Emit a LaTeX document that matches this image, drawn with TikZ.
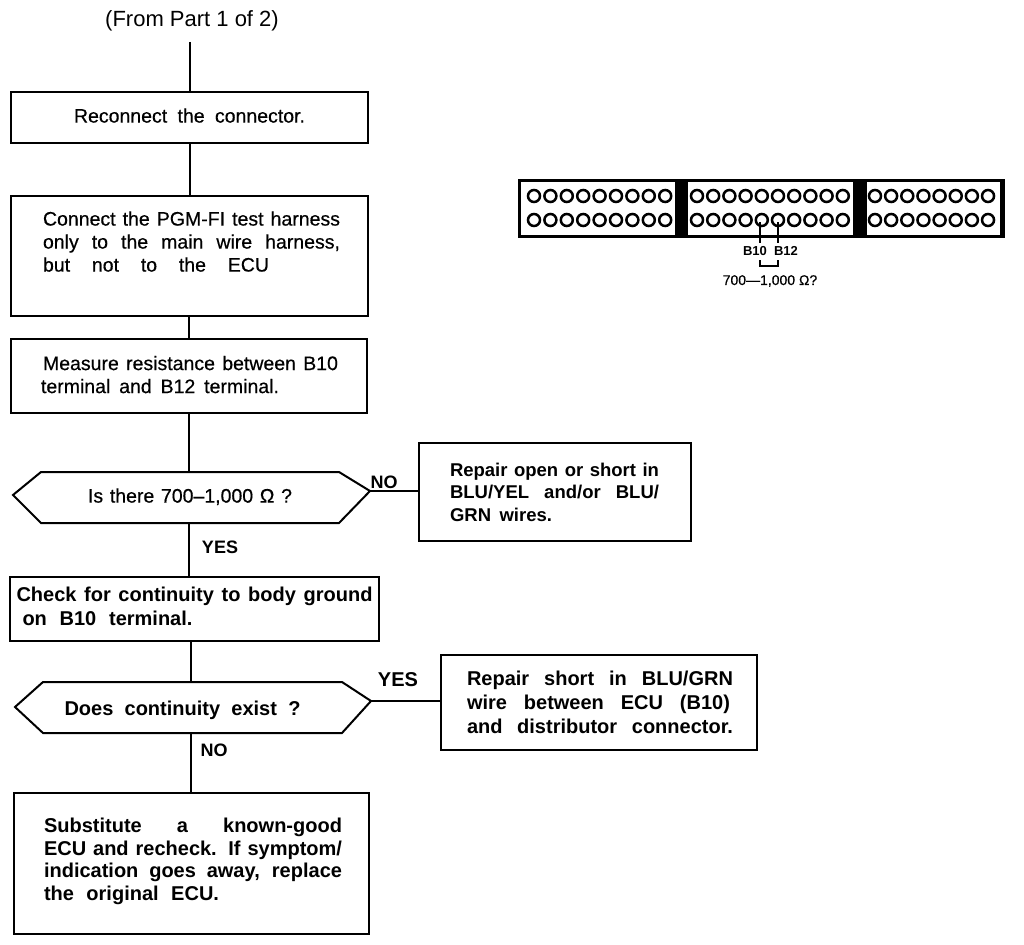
\documentclass[tikz,border=0pt]{standalone}
\usepackage{fontspec}
\setmainfont{Liberation Sans}
\newfontfamily\medfont[FakeBold=0.5]{Liberation Sans}

% one line stretched to a given width
\newcommand{\fl}[2]{\makebox[#1pt][s]{\spaceskip=0pt\xspaceskip=0pt #2}}
% hexagon outline round a question node: left tip, right tip
\newcommand{\hexout}[3]{\draw[wire] (#1.north west) -- (#1.north east) -- (#3) -- (#1.south east) -- (#1.south west) -- (#2) -- cycle;}

\tikzset{
wire/.style={line width=2pt,line join=miter},
thin wire/.style={line width=1.5pt},
textbox/.style={draw,line width=2pt,anchor=north west,align=left,outer sep=0pt,inner ysep=0pt},
rtext/.style={font=\fontsize{19.5}{23}\medfont},
btext/.style={font=\fontsize{20}{23}\selectfont\bfseries},
question/.style={anchor=north west,outer sep=0pt,inner sep=0pt,align=center},
answer/.style={font=\fontsize{18}{22}\selectfont\bfseries,inner sep=0pt},
}

\begin{document}
\begin{tikzpicture}[x=1pt,y=-1pt]
\useasboundingbox (0,0) rectangle (1024,944);

% left column
\node[font=\fontsize{22}{26}\selectfont,inner sep=0pt] (from) at (192,21) {(From Part 1 of 2)};
\coordinate (start) at (190,42);

\node[textbox,rtext,minimum width=357pt,minimum height=51pt,text width=337pt,inner xsep=10pt,align=center] (reconnect) at (11,92)
  {\fl{231}{Reconnect the connector.}\\[-19pt]\mbox{}};
\node[textbox,rtext,minimum width=357pt,minimum height=120pt,text width=325pt,inner xsep=16pt] (harness) at (11,196)
  {\hspace{16pt}\fl{297}{Connect the PGM-FI test harness}\\
   \hspace{16pt}\fl{297}{only to the main wire harness,}\\
   \hspace{16pt}\fl{226}{but not to the ECU}\\[6pt]\mbox{}};
\node[textbox,rtext,minimum width=356pt,minimum height=74pt,text width=298pt,inner xsep=29pt] (measure) at (11,339)
  {\hspace{3pt}\fl{295}{Measure resistance between B10}\\
   \hspace{1pt}\fl{238}{terminal and B12 terminal.}\\[-20pt]\mbox{}};

\node[question,rtext,minimum width=298pt,minimum height=51pt] (askohm) at (41,472) {\fl{204}{Is there 700–1,000 Ω ?}\\[-19pt]\mbox{}};
\coordinate (askohml) at (13,495);
\coordinate (askohmr) at (370,491);
\hexout{askohm}{askohml}{askohmr}

\node[textbox,btext,minimum width=369pt,minimum height=64pt,text width=356pt,inner xsep=6.5pt,font=\fontsize{20}{24}\selectfont\bfseries] (check) at (10,577)
  {\fl{356}{Check for continuity to body ground}\\
   \hspace{6pt}\fl{170}{on B10 terminal.}\\[-18pt]\mbox{}};

\node[question,btext,minimum width=299pt,minimum height=51pt] (askcont) at (43,682) {\hspace*{-20pt}\raisebox{-3pt}[\height][\depth]{\fl{236}{Does continuity exist ?}}};
\coordinate (askcontl) at (15,707);
\coordinate (askcontr) at (371,701);
\hexout{askcont}{askcontl}{askcontr}

\node[textbox,btext,minimum width=355pt,minimum height=141pt,text width=295pt,inner xsep=30pt,font=\fontsize{20}{22.7}\selectfont\bfseries] (substitute) at (14,793)
  {\fl{298}{Substitute a known-good}\\
   \fl{298}{ECU and recheck. If symptom/}\\
   \fl{298}{indication goes away, replace}\\
   \fl{175}{the original ECU.}\\[-14pt]\mbox{}};

% right column
\node[textbox,btext,minimum width=272pt,minimum height=98pt,text width=240pt,inner xsep=16pt,font=\fontsize{18.5}{22.5}\selectfont\bfseries] (repopen) at (419,443)
  {\hspace{15pt}\fl{209}{Repair open or short in}\\
   \hspace{15pt}\fl{209}{BLU/YEL and/or BLU/}\\
   \hspace{15pt}\fl{102}{GRN wires.}};
\node[textbox,btext,minimum width=316pt,minimum height=95pt,text width=270pt,inner xsep=23pt,font=\fontsize{20}{24}\selectfont\bfseries] (repshort) at (441,655)
  {\hspace{3pt}\fl{266}{Repair short in BLU/GRN}\\
   \hspace{3pt}\fl{263}{wire between ECU (B10)}\\
   \hspace{3pt}\fl{266}{and distributor connector.}};

% connectors
\draw[wire] (start) -- (start |- reconnect.north);
\draw[wire] (reconnect.south -| start) -- (start |- harness.north);
\draw[wire] (189,316) -- (measure.north -| 189,316);
\draw[wire] (189,413) -- (askohm.north -| 189,413);
\draw[wire] (askohm.south -| 189,523) -- (check.north -| 189,523);
\draw[wire] (check.south -| 191,641) -- (askcont.north -| 191,641);
\draw[wire] (askcont.south -| 191,733) -- (substitute.north -| 191,733);
\draw[wire] (askohmr) -- (askohmr -| repopen.west);
\draw[wire] (askcontr) -- (askcontr -| repshort.west);

\node[answer] (noa) at (384,482) {NO};
\node[answer] (yesa) at (220,547) {YES};
\node[answer,font=\fontsize{20}{22}\selectfont\bfseries] (yesb) at (398,680) {YES};
\node[answer] (nob) at (214,750) {NO};

% connector face
\fill (518,179) rectangle (1005,238);
\fill[white] (521,182) rectangle (675,235);
\fill[white] (688,182) rectangle (853,235);
\fill[white] (867,182) rectangle (1000,235);
\foreach \row in {196,220} {
  \foreach \i in {0,...,8} \draw[line width=2.5pt] (534+\i*16.4,\row) circle (6pt);
  \foreach \i in {0,...,9} \draw[line width=2.5pt] (697+\i*16.2,\row) circle (6pt);
  \foreach \i in {0,...,7} \draw[line width=2.5pt] (875+\i*16.15,\row) circle (6pt);
}
\node[font=\fontsize{13}{14}\selectfont\bfseries,inner sep=0pt] (bten) at (755,251) {B10};
\node[font=\fontsize{13}{14}\selectfont\bfseries,inner sep=0pt] (btwelve) at (786,251) {B12};
\coordinate (pinten) at (760,222);
\coordinate (pintwelve) at (778,222);
\draw[thin wire] (pinten) -- (760,243);
\draw[thin wire] (pintwelve) -- (778,243);
\draw[thin wire] (760,260) -- (760,266) -- (778,266) -- (778,260);
\node[font=\fontsize{14}{14}\medfont,inner sep=0pt] (ohms) at (770,281) {700—1,000 Ω?};
\end{tikzpicture}
\end{document}
